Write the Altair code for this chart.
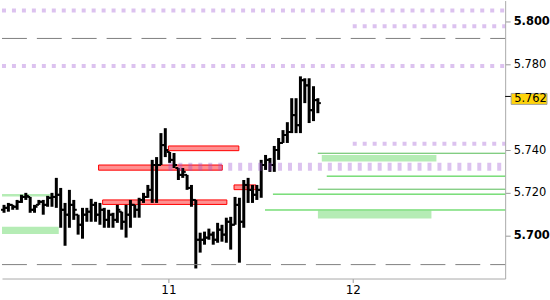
import altair as alt
import pandas as pd

# ---- OHLC bars (price) ----
highs = [5.7144, 5.7153, 5.7144, 5.7167, 5.7191, 5.7200, 5.7181, 5.7144, 5.7167, 5.7167,
         5.7186, 5.7200, 5.7270, 5.7223, 5.7153, 5.7214, 5.7167, 5.7098, 5.7130, 5.7130,
         5.7172, 5.7158, 5.7153, 5.7130, 5.7121, 5.7107, 5.7144, 5.7112, 5.7144, 5.7167,
         5.7144, 5.7177, 5.7200, 5.7237, 5.7354, 5.7367, 5.7479, 5.7502, 5.7391, 5.7386,
         5.7316, 5.7316, 5.7284, 5.7237, 5.7167, 5.7014, 5.7019, 5.7033, 5.7019, 5.7060,
         5.7051, 5.7084, 5.7088, 5.7181, 5.7177, 5.7260, 5.7270, 5.7237, 5.7237, 5.7354,
         5.7377, 5.7363, 5.7419, 5.7456, 5.7493, 5.7530, 5.7642, 5.7642, 5.7744, 5.7735,
         5.7735, 5.7698, 5.7642]
lows = [5.7107, 5.7112, 5.7121, 5.7121, 5.7153, 5.7167, 5.7107, 5.7107, 5.7144, 5.7098,
        5.7135, 5.7135, 5.7130, 5.7037, 5.6953, 5.7037, 5.7074, 5.7005, 5.6986, 5.7065,
        5.7065, 5.7065, 5.7051, 5.7037, 5.7037, 5.7037, 5.7060, 5.7028, 5.6991, 5.7037,
        5.7084, 5.7084, 5.7153, 5.7177, 5.7153, 5.7153, 5.7330, 5.7367, 5.7340, 5.7316,
        5.7260, 5.7270, 5.7214, 5.7135, 5.6847, 5.6921, 5.6958, 5.6981, 5.6958, 5.6967,
        5.6972, 5.6967, 5.6935, 5.7051, 5.6874, 5.7037, 5.7153, 5.7153, 5.7167, 5.7177,
        5.7307, 5.7298, 5.7298, 5.7354, 5.7433, 5.7433, 5.7479, 5.7479, 5.7479, 5.7619,
        5.7526, 5.7535, 5.7572]
opens = [5.7121, 5.7130, 5.7144, 5.7135, 5.7158, 5.7181, 5.7181, 5.7121, 5.7144, 5.7158,
         5.7144, 5.7177, 5.7181, 5.7191, 5.7121, 5.7098, 5.7144, 5.7098, 5.7051, 5.7098,
         5.7112, 5.7144, 5.7098, 5.7121, 5.7074, 5.7098, 5.7074, 5.7112, 5.7065, 5.7098,
         5.7144, 5.7121, 5.7167, 5.7181, 5.7214, 5.7330, 5.7330, 5.7423, 5.7391, 5.7354,
         5.7316, 5.7284, 5.7284, 5.7223, 5.7167, 5.6981, 5.6981, 5.6991, 5.7005, 5.6981,
         5.7028, 5.7005, 5.7065, 5.7051, 5.7144, 5.7065, 5.7237, 5.7214, 5.7191, 5.7214,
         5.7330, 5.7354, 5.7330, 5.7400, 5.7433, 5.7470, 5.7484, 5.7563, 5.7516, 5.7726,
         5.7702, 5.7586, 5.7633]
closes = [5.7130, 5.7144, 5.7135, 5.7158, 5.7181, 5.7186, 5.7121, 5.7135, 5.7158, 5.7144,
          5.7177, 5.7181, 5.7191, 5.7121, 5.7098, 5.7144, 5.7121, 5.7051, 5.7098, 5.7112,
          5.7144, 5.7098, 5.7121, 5.7074, 5.7098, 5.7074, 5.7121, 5.7065, 5.7098, 5.7144,
          5.7121, 5.7167, 5.7181, 5.7214, 5.7330, 5.7330, 5.7423, 5.7400, 5.7354, 5.7330,
          5.7284, 5.7298, 5.7223, 5.7167, 5.6981, 5.6981, 5.6991, 5.7005, 5.6981, 5.7028,
          5.7005, 5.7065, 5.7051, 5.7144, 5.7065, 5.7237, 5.7214, 5.7191, 5.7214, 5.7330,
          5.7354, 5.7330, 5.7400, 5.7433, 5.7470, 5.7484, 5.7563, 5.7516, 5.7726, 5.7702,
          5.7586, 5.7633, 5.7619]
bar_start_day = 10.108   # first bar time (day of month)
bar_step_day = 0.02365   # bar interval in days

# ---- horizontal levels ----
x_min, x_max = 10.097, 12.827
purple_thin = {"start": [x_min, 12.0, x_min, 12.0], "end": [x_max, x_max, x_max, x_max],
               "price": [5.8051, 5.7978, 5.7792, 5.7429]}
purple_thick = {"start": [11.0], "end": [12.81], "price": [5.7322]}
gray_dash = {"start": [x_min, x_min], "end": [x_max, x_max], "price": [5.7921, 5.6865]}
green_dark = {"start": [11.8105, 11.8105], "end": [x_max, x_max], "price": [5.7385, 5.7217]}
green_bright = {"start": [11.859, 11.567, 11.524], "end": [x_max, x_max, x_max],
                "price": [5.7278, 5.7194, 5.7120]}

# ---- zones ----
green_zones = {"start": [11.832, 11.811, x_min, x_min], "end": [12.454, 12.427, 10.367, 10.405],
               "top": [5.7377, 5.7116, 5.7195, 5.7042], "bottom": [5.7346, 5.7080, 5.7183, 5.7008]}
red_zones = {"start": [10.621, 11.000, 10.643, 11.356], "end": [11.292, 11.382, 11.317, 11.475],
             "top": [5.7330, 5.7419, 5.7167, 5.7237], "bottom": [5.7306, 5.7397, 5.7146, 5.7215]}

last_price = [5.762]
x_ticks = [11, 12]
y_ticks = [5.70, 5.72, 5.74, 5.78, 5.80]

bars = pd.DataFrame({
    "t": [bar_start_day + i * bar_step_day for i in range(len(highs))],
    "high": highs, "low": lows, "open": opens, "close": closes,
})

FONT = "DejaVu Sans"
xscale = alt.Scale(domain=[x_min, x_max], nice=False, zero=False)
yscale = alt.Scale(domain=[5.680, 5.8098], nice=False, zero=False)
xaxis = alt.Axis(values=x_ticks, format="d", grid=False, title=None, tickSize=4,
                 domainColor="#aaaaaa", tickColor="#999999", labelColor="#000000",
                 labelFontSize=12, labelFont=FONT, labelPadding=2)
yaxis = alt.Axis(orient="right", values=y_ticks, format=".3f", grid=False, title=None,
                 tickSize=5, domainColor="#aaaaaa", tickColor="#999999",
                 labelColor="#000000", labelFontSize=11.5, labelFont=FONT, labelPadding=3,
                 labelFontWeight={"condition": {"test": "abs(datum.value-5.8)<1e-6 || abs(datum.value-5.7)<1e-6",
                                                "value": "bold"}, "value": "normal"})


def X(f):
    return alt.X(f, type="quantitative", scale=xscale, axis=xaxis)


def Y(f):
    return alt.Y(f, type="quantitative", scale=yscale, axis=yaxis)


def lines(d, **mk):
    return alt.Chart(pd.DataFrame(d)).mark_rule(**mk).encode(
        x=X("start"), x2="end", y=Y("price"))


def zones(d, **mk):
    return alt.Chart(pd.DataFrame(d)).mark_rect(**mk).encode(
        x=X("start"), x2="end", y=Y("top"), y2="bottom")


g_zone = zones(green_zones, fill="#b5ecb5")
r_zone = zones(red_zones, fill="#ff9090", stroke="#ff0000", strokeWidth=1)

base = alt.Chart(bars)
hl = base.mark_rule(color="black", strokeWidth=3).encode(x=X("t"), y=Y("high"), y2="low")
op = base.mark_rule(color="black", strokeWidth=2, xOffset=-3, x2Offset=0).encode(
    x=X("t"), x2="t", y=Y("open"))
cl = base.mark_rule(color="black", strokeWidth=2, xOffset=0, x2Offset=3).encode(
    x=X("t"), x2="t", y=Y("close"))

p_thin = lines(purple_thin, color="#9b4fd0", opacity=0.35, strokeWidth=4,
               strokeDash=[4, 6], strokeCap="butt")
p_thick = lines(purple_thick, color="#9b4fd0", opacity=0.35, strokeWidth=8,
                strokeDash=[4, 6], strokeCap="butt")
g_dash = lines(gray_dash, color="#808080", strokeWidth=1, strokeDash=[25, 10])
gr_dark = lines(green_dark, color="#55bb55", strokeWidth=1)
gr_bright = lines(green_bright, color="#33cc33", strokeWidth=1)

lp = pd.DataFrame({"price": last_price})
lp_tick = alt.Chart(lp).mark_rule(color="black", strokeWidth=1, yOffset=-6.5).encode(
    x=alt.value(505), x2=alt.value(511), y=Y("price"))
lp_box = alt.Chart(lp).mark_rect(fill="#ffd40a", stroke="#a0a0a0", strokeWidth=1,
                                 yOffset=-9.5, y2Offset=1.5).encode(
    x=alt.value(511), x2=alt.value(547), y=Y("price"), y2="price")
lp_text = alt.Chart(lp).mark_text(align="left", baseline="middle", font=FONT, fontSize=11.5,
                                  color="black", yOffset=-4).encode(
    x=alt.value(514), y=Y("price"), text=alt.Text("price:Q", format=".3f"))

chart = alt.layer(
    g_zone, r_zone, hl, op, cl, p_thin, p_thick, g_dash, gr_dark, gr_bright,
    lp_tick, lp_box, lp_text
).properties(width=505, height=279, padding=0).configure_view(stroke=None)

chart.save("out.html", embed_options={"renderer": "svg", "actions": False})
